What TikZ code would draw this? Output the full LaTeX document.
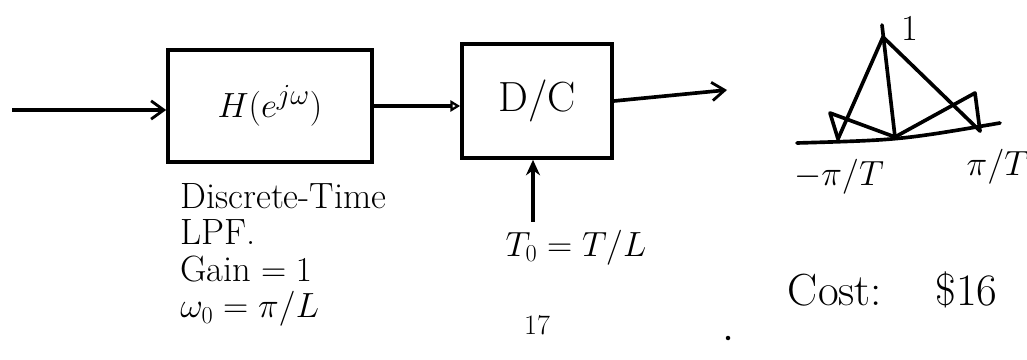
\documentclass[tikz,border=0pt]{standalone}
\usetikzlibrary{arrows.meta}
\begin{document}
\begin{tikzpicture}[x=0.025cm, y=-0.025cm,
    blockbox/.style={draw, line width=2.6pt, inner sep=0pt, font=\fontsize{30}{32}\selectfont},
    sig/.style={line width=2.6pt, -{Straight Barb[length=9pt,width=13pt,line width=2pt]}},
    handtext/.style={font=\fontsize{26}{26}\selectfont}]
    \useasboundingbox (0,0) rectangle (1027,360);

    % Blocks
    \node[blockbox, minimum width=5.1cm, minimum height=2.8cm] (filt) at (270,106) {$H(e^{j\omega})$};
    \node[blockbox, minimum width=3.75cm, minimum height=2.85cm] (dc) at (537,101) {D/C};

    % Signal path
    \coordinate (in) at (12,110);
    \coordinate (out) at (727,90);
    \draw[sig] (in) -- (in -| filt.west);
    \draw[line width=2.6pt, -{Triangle[open,length=7pt,width=8pt,line width=1.6pt]}] (filt.east) -- (filt.east -| dc.west);
    \draw[sig] (dc.east) -- (out);

    % Sampling period
    \coordinate (clk) at (533,222);
    \draw[line width=2.6pt, -{Stealth[length=11pt,width=10pt]}] (clk) -- (clk |- dc.south);
    \node[handtext] (period) at (576,248) {$T_0=T/L$};

    % Filter spec
    \node[handtext, align=left, anchor=north west, inner sep=0pt] (spec) at (180,183)
        {Discrete-Time\\LPF.\\Gain${}=1$\\$\omega_0=\pi/L$};

    % Spectrum sketch
    \coordinate (b0) at (797,143);
    \coordinate (b1) at (1000,123);
    \coordinate (pk) at (883,37);
    \coordinate (pktop) at (882,25);
    \coordinate (mid) at (895,137);
    \coordinate (lft) at (838,139);
    \coordinate (ltip) at (830,113);
    \coordinate (rtip) at (975,93);
    \coordinate (rgt) at (980,131);
    \begin{scope}[line width=2.6pt, line join=round, line cap=round]
        \draw (b0) .. controls (900,140) .. (b1);
        \draw (lft) -- (pk) -- (rgt);
        \draw (pktop) -- (mid);
        \draw (lft) -- (ltip) -- (mid) -- (rtip) -- (rgt);
    \end{scope}
    \node[handtext] (one) at (910,28) {1};
    \node[handtext] (lo) at (839,177) {$-\pi/T$};
    \node[handtext] (hi) at (998,167) {$\pi/T$};

    % Cost
    \node[font=\fontsize{32}{34}\selectfont, anchor=west] (cost) at (783,290) {Cost:\hspace{38pt}\$16};

    % Page number
    \node[font=\fontsize{20}{22}\selectfont] (page) at (537,325) {17};
    \fill (728,338) circle (1.6pt);
\end{tikzpicture}
\end{document}
